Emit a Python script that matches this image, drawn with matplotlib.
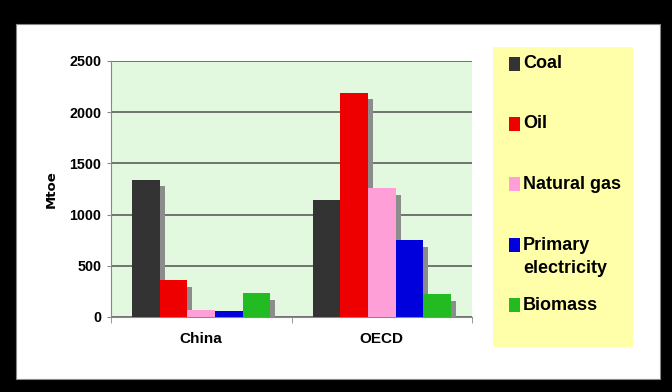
import numpy as np
import matplotlib.pyplot as plt
from matplotlib.patches import Rectangle

# data
regions = ["China", "OECD"]
fuels = ["Coal", "Oil", "Natural gas", "Primary\nelectricity", "Biomass"]
coal = [1340, 1140]
oil = [360, 2190]
natural_gas = [65, 1260]
primary_electricity = [60, 750]
biomass = [230, 225]
yticks = [0, 500, 1000, 1500, 2000, 2500]

series = [coal, oil, natural_gas, primary_electricity, biomass]
colors = ["#333333", "#ee0000", "#ff9fd8", "#0000dd", "#22bb22"]

W, H = 672, 392
fig = plt.figure(figsize=(W / 100, H / 100), dpi=100, facecolor="black")

# white slide panel inside the black frame
fig.patches.append(Rectangle((16 / W, 1 - 379 / H), 644 / W, 355 / H,
                             transform=fig.transFigure, facecolor="white",
                             edgecolor="#888888", lw=0.8, zorder=-10))

ax = fig.add_axes([111 / W, 1 - 317 / H, 361 / W, 256 / H])
ax.set_facecolor("#e2f9e0")

x = np.arange(len(regions))
bw = 0.153
dx, dy = 0.028, 65
for i, (vals, c) in enumerate(zip(series, colors)):
    pos = x + (i - 2) * bw
    vals = np.array(vals)
    # drop shadow
    ax.bar(pos + dx, np.maximum(vals - dy, 0), bw, color="#8c8c8c", zorder=2)
    ax.bar(pos, vals, bw, color=c, zorder=3)

ax.set_xlim(-0.5, 1.5)
ax.set_ylim(0, 2500)
ax.set_yticks(yticks)
ax.set_yticklabels([str(v) for v in yticks], fontfamily="Liberation Sans",
                   fontweight="bold", fontsize=10.3)
ax.yaxis.grid(True, color="#505050", lw=1.1, zorder=1)
ax.set_axisbelow(True)

ax.set_xticks(x)
ax.set_xticklabels(regions, fontfamily="Liberation Sans",
                   fontweight="bold", fontsize=11)
ax.set_xticks([-0.5, 0.5, 1.5], minor=True)
ax.tick_params(axis="x", which="major", length=0, pad=11)
ax.tick_params(axis="x", which="minor", length=4, color="#888888")
ax.tick_params(axis="y", length=3, color="#888888", pad=4)

for s in ["top", "right"]:
    ax.spines[s].set_visible(False)
for s in ["left", "bottom"]:
    ax.spines[s].set_color("#888888")

ax.set_ylabel("Mtoe", fontfamily="DejaVu Sans", fontweight="bold",
              fontsize=9.5, labelpad=8)

# legend panel
fig.patches.append(Rectangle((493 / W, 1 - 347 / H), 140 / W, 300 / H,
                             transform=fig.transFigure, facecolor="#ffffaa",
                             edgecolor="none", zorder=1))
row_y = [64, 124, 184, 257, 305]
for name, c, yy in zip(fuels, colors, row_y):
    off = 12 if "\n" in name else 0
    fig.patches.append(Rectangle((509 / W, 1 - (yy - off + 7) / H), 11 / W, 14 / H,
                                 transform=fig.transFigure, facecolor=c,
                                 edgecolor="none", zorder=2))
    fig.text(523 / W, 1 - yy / H, name, ha="left", va="center",
             fontfamily="Liberation Sans", fontweight="bold", fontsize=13,
             linespacing=1.45)

fig.savefig("out.png", dpi=100, facecolor="black")
